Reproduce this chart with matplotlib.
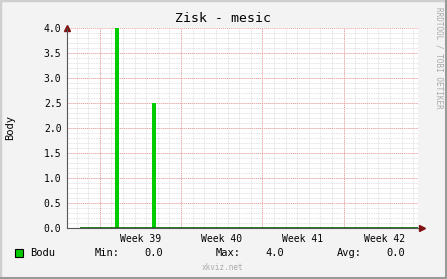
import numpy as np
import matplotlib
matplotlib.use("Agg")
import matplotlib.pyplot as plt
from matplotlib.patches import Rectangle

# x axis in days from the left edge of the graph (one month window)
x_end = 30.24
data_start = 1.12
week_starts = [2.83, 9.83, 16.83, 23.83]
week_labels = ["Week 39", "Week 40", "Week 41", "Week 42"]
bar_days = [4.30, 7.47]
bar_values = [4.0, 2.5]
y_ticks = [0.0, 0.5, 1.0, 1.5, 2.0, 2.5, 3.0, 3.5, 4.0]

stat_min = "0.0"
stat_max = "4.0"
stat_avg = "0.0"

W, H = 447, 279
mono = "DejaVu Sans Mono"
plt.rcParams["font.family"] = mono

fig = plt.figure(figsize=(W / 100, H / 100), dpi=100)
fig.patch.set_facecolor("#F3F3F3")

# rrdtool style shaded border
fig.patches.append(Rectangle((0, 0), 1, 1, transform=fig.transFigure, fill=False,
                             edgecolor="#CFCFCF", linewidth=2.5))
fig.add_artist(plt.Line2D([0, 1], [1 / H, 1 / H], transform=fig.transFigure, color="#9A9A9A", lw=1.5))
fig.add_artist(plt.Line2D([1 - 1 / W, 1 - 1 / W], [0, 1], transform=fig.transFigure, color="#9A9A9A", lw=1.5))

ax = fig.add_axes([67 / W, (H - 228) / H, (418 - 67) / W, (228 - 28) / H])
ax.set_facecolor("white")
ax.set_xlim(0, x_end)
ax.set_ylim(0, 4.0)

# grid: minor daily / 0.1, major weekly / 0.5
first_day = week_starts[0] - np.floor(week_starts[0])
for d in np.arange(first_day, x_end, 1.0):
    ax.axvline(d, color="#D8D8D8", lw=0.6, ls=(0, (1, 1)), zorder=0)
for v in np.arange(0.1, 4.0, 0.1):
    ax.axhline(v, color="#D8D8D8", lw=0.6, ls=(0, (1, 1)), zorder=0)
for d in week_starts:
    ax.axvline(d, color="#F0A0A0", lw=0.7, ls=(0, (1, 1)), zorder=1)
for v in y_ticks[1:]:
    ax.axhline(v, color="#F0A0A0", lw=0.7, ls=(0, (1, 1)), zorder=1)

ax.bar(bar_days, bar_values, width=0.34, color="#00CC00", zorder=3)
ax.hlines(0, data_start, x_end, color="#006600", lw=1.2, zorder=4)

for s in ["top", "right"]:
    ax.spines[s].set_visible(False)
ax.spines["left"].set_color("#555555")
ax.spines["bottom"].set_color("#555555")
ax.spines["left"].set_linewidth(0.8)
ax.spines["bottom"].set_linewidth(0.8)

ax.set_yticks(y_ticks)
ax.set_yticklabels(["%.1f" % v for v in y_ticks])
ax.set_xticks([w + 3.5 for w in week_starts])
ax.set_xticklabels(week_labels)
ax.tick_params(axis="both", length=0, labelsize=7, colors="#000000", pad=4)
ax.tick_params(axis="x", pad=4)

# axis arrows
ax.plot([0], [1.0], marker="^", color="#7F1010", markersize=4, transform=ax.transAxes, clip_on=False)
ax.plot([1.01], [0], marker=">", color="#7F1010", markersize=4, transform=ax.transAxes, clip_on=False)

fig.text(223 / W, 1 - 18 / H, "Zisk - mesic", ha="center", va="center", fontsize=9.5)
fig.text(10 / W, 1 - 128 / H, "Body", ha="center", va="center", rotation=90, fontsize=7.5)
fig.text(439 / W, 1 - 58 / H, "RRDTOOL / TOBI OETIKER", ha="center", va="center",
         rotation=-90, fontsize=5.5, color="#AAAAAA")
fig.text(223 / W, 1 - 268 / H, "xkviz.net", ha="center", va="center", fontsize=5.5, color="#AAAAAA")

# legend row
ly = 1 - 253 / H
fig.patches.append(Rectangle((15 / W, 1 - 257 / H), 8 / W, 8 / H, transform=fig.transFigure,
                             facecolor="#00CC00", edgecolor="black", lw=0.8))
fig.text(30 / W, ly, "Bodu", va="center", fontsize=7.5)
fig.text(95 / W, ly, "Min:", va="center", fontsize=7.5)
fig.text(144 / W, ly, stat_min, va="center", fontsize=7.5)
fig.text(216 / W, ly, "Max:", va="center", fontsize=7.5)
fig.text(265 / W, ly, stat_max, va="center", fontsize=7.5)
fig.text(337 / W, ly, "Avg:", va="center", fontsize=7.5)
fig.text(386 / W, ly, stat_avg, va="center", fontsize=7.5)

fig.savefig("out.png", dpi=100, facecolor=fig.get_facecolor())
